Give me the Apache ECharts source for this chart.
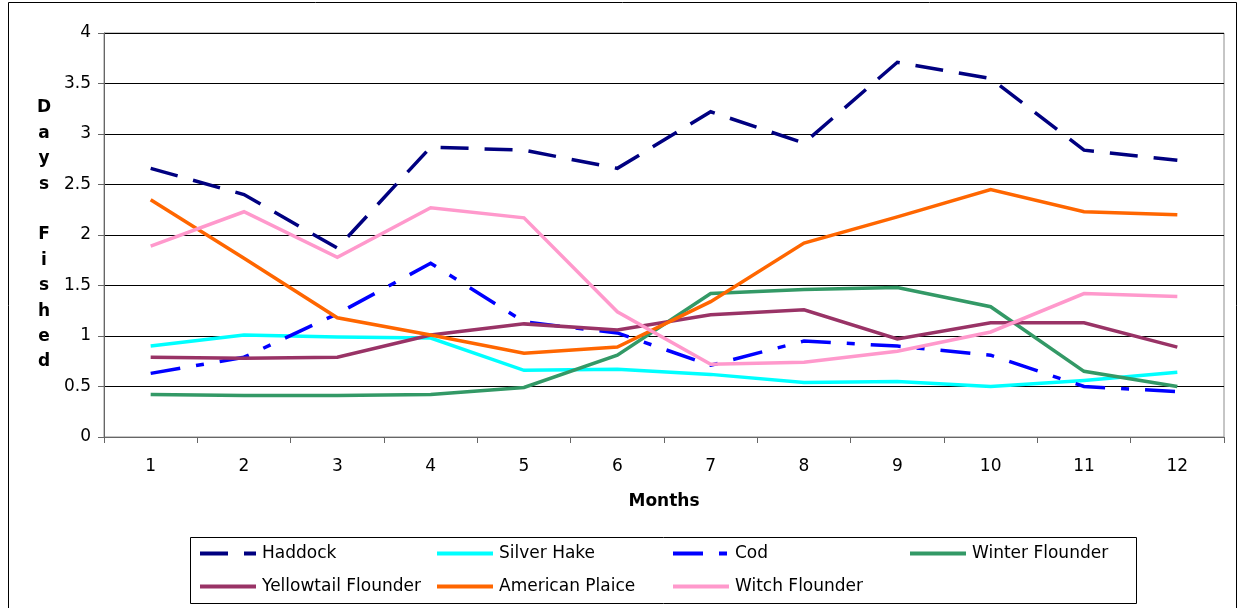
<!DOCTYPE html>
<html>
<head>
<meta charset="utf-8">
<script src="https://cdn.jsdelivr.net/npm/echarts@6/dist/echarts.min.js"></script>
<style>
  html, body { margin: 0; padding: 0; background: #fff; }
  #chart { width: 1238px; height: 608px; }
</style>
</head>
<body>
<div id="chart"></div>
<script>
// Months on the x axis
const months = ['1', '2', '3', '4', '5', '6', '7', '8', '9', '10', '11', '12'];

// Days fished per month, by species
const haddock            = [2.66, 2.40, 1.87, 2.87, 2.84, 2.66, 3.22, 2.91, 3.71, 3.55, 2.84, 2.74];
const silverHake         = [0.90, 1.01, 0.99, 0.98, 0.66, 0.67, 0.62, 0.54, 0.55, 0.50, 0.56, 0.64];
const cod                = [0.63, 0.79, 1.22, 1.72, 1.14, 1.03, 0.71, 0.95, 0.90, 0.81, 0.50, 0.45];
const winterFlounder     = [0.42, 0.41, 0.41, 0.42, 0.49, 0.81, 1.42, 1.46, 1.48, 1.29, 0.65, 0.50];
const yellowtailFlounder = [0.79, 0.78, 0.79, 1.01, 1.12, 1.06, 1.21, 1.26, 0.97, 1.13, 1.13, 0.89];
const americanPlaice     = [2.35, 1.77, 1.18, 1.01, 0.83, 0.89, 1.34, 1.92, 2.18, 2.45, 2.23, 2.20];
const witchFlounder      = [1.89, 2.23, 1.78, 2.27, 2.17, 1.24, 0.72, 0.74, 0.85, 1.04, 1.42, 1.39];

const seriesNames = ['Haddock', 'Silver Hake', 'Cod', 'Winter Flounder',
                     'Yellowtail Flounder', 'American Plaice', 'Witch Flounder'];
const seriesValues = [haddock, silverHake, cod, winterFlounder,
                      yellowtailFlounder, americanPlaice, witchFlounder];
const seriesColors = ['#000080', '#00FFFF', '#0000FF', '#339966',
                      '#993366', '#FF6600', '#FF99CC'];
const seriesDashes = [[28, 16], 'solid', [30, 16, 8, 16], 'solid',
                      'solid', 'solid', 'solid'];

const FONT = 'DejaVu Sans';

const chart = echarts.init(document.getElementById('chart'), null, { renderer: 'canvas' });

// Legend: two rows, four columns, one legend block per entry
const legendCols = [198, 435, 671, 908];
const legendRows = [545, 578];
const legends = seriesNames.map((name, i) => ({
  data: [name],
  left: legendCols[i % 4],
  top: legendRows[Math.floor(i / 4)],
  itemWidth: 56,
  itemHeight: 14,
  selectedMode: false,
  // line only, no marker in the key
  itemStyle: { opacity: 0, color: 'transparent', borderWidth: 0 },
  lineStyle: { width: 4 },
  textStyle: { fontFamily: FONT, fontSize: 17, color: '#000', padding: [0, 0, 0, 1] },
  padding: 0
}));

const option = {
  backgroundColor: '#fff',
  animation: false,
  grid: {
    left: 104, right: 14, top: 33, bottom: 171,
    show: true, borderColor: '#8c8c8c', borderWidth: 1, backgroundColor: 'transparent'
  },
  legend: legends,
  xAxis: {
    type: 'category',
    data: months,
    boundaryGap: true,
    name: 'Months',
    nameLocation: 'middle',
    nameGap: 56,
    nameTextStyle: { fontFamily: FONT, fontSize: 17, fontWeight: 'bold', color: '#000' },
    axisLine: { lineStyle: { color: '#666', width: 1 } },
    axisTick: { show: true, length: 6, inside: false, lineStyle: { color: '#666' } },
    axisLabel: { fontFamily: FONT, fontSize: 17, color: '#000', margin: 21 },
    splitLine: { show: false }
  },
  yAxis: {
    type: 'value',
    min: 0, max: 4, interval: 0.5,
    name: 'D\na\ny\ns\n\nF\ni\ns\nh\ne\nd',
    nameLocation: 'middle',
    nameRotate: 0,
    nameGap: 60,
    nameTextStyle: {
      fontFamily: FONT, fontSize: 17, fontWeight: 'bold', color: '#000',
      lineHeight: 25.4, align: 'center', verticalAlign: 'middle'
    },
    axisLine: { show: true, lineStyle: { color: '#666', width: 1 } },
    axisTick: { show: true, length: 6, lineStyle: { color: '#666' } },
    axisLabel: { fontFamily: FONT, fontSize: 17, color: '#000', margin: 13 },
    splitLine: { show: true, lineStyle: { color: '#000', width: 1 } }
  },
  series: seriesNames.map((name, i) => ({
    name: name,
    type: 'line',
    data: seriesValues[i],
    symbol: 'none',
    smooth: false,
    color: seriesColors[i],
    lineStyle: { color: seriesColors[i], width: 3.5, type: seriesDashes[i], cap: 'butt', join: 'miter' },
    emphasis: { disabled: true }
  })),
  graphic: [
    {
      type: 'rect', silent: true, z: -1,
      shape: { x: 8.5, y: 2.5, width: 1228, height: 612 },
      style: { fill: 'none', stroke: '#000', lineWidth: 1 }
    },
    {
      type: 'rect', silent: true, z: -1,
      shape: { x: 190.5, y: 537.5, width: 946, height: 66 },
      style: { fill: 'none', stroke: '#000', lineWidth: 1 }
    }
  ]
};

chart.setOption(option);
</script>
</body>
</html>
